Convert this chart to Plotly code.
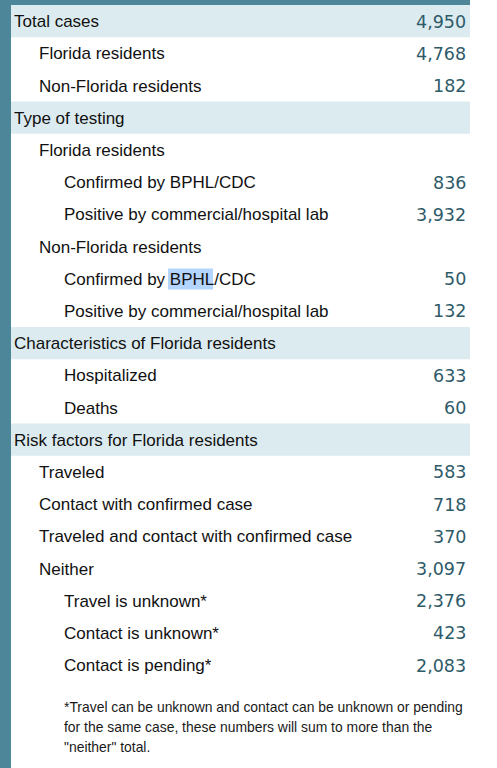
import plotly.graph_objects as go

labels = [
    "Total cases", "Florida residents", "Non-Florida residents",
    "Type of testing", "Florida residents", "Confirmed by BPHL/CDC",
    "Positive by commercial/hospital lab", "Non-Florida residents",
    "Confirmed by BPHL/CDC", "Positive by commercial/hospital lab",
    "Characteristics of Florida residents", "Hospitalized", "Deaths",
    "Risk factors for Florida residents", "Traveled", "Contact with confirmed case",
    "Traveled and contact with confirmed case", "Neither",
    "Travel is unknown*", "Contact is unknown*", "Contact is pending*",
]
levels = [0, 1, 1, 0, 1, 2, 2, 1, 2, 2, 0, 2, 2, 0, 1, 1, 1, 1, 2, 2, 2]
values = ["4,950", "4,768", "182", "", "", "836", "3,932", "", "50", "132",
          "", "633", "60", "", "583", "718", "370", "3,097", "2,376", "423", "2,083"]
headers = [True, False, False, True, False, False, False, False, False, False,
           True, False, False, True, False, False, False, False, False, False, False]
footnote = ["*Travel can be unknown and contact can be unknown or pending",
            "for the same case, these numbers will sum to more than the",
            "\"neither\" total."]

W, H = 497, 768
TEAL = "#4d8699"
HDR = "#dcebf0"
VALC = "#2f5b69"
FONT = "Liberation Sans"
VFONT = "DejaVu Sans"

row_top = 5.0
row_h = 32.2
left = 11
right = 470
indent = {0: 12, 1: 37, 2: 62}

fig = go.Figure()
shapes = []
annotations = []

# frame
shapes.append(dict(type="rect", x0=0, x1=left, y0=0, y1=H, fillcolor=TEAL, line_width=0, layer="below"))
shapes.append(dict(type="rect", x0=0, x1=right, y0=0, y1=row_top, fillcolor=TEAL, line_width=0, layer="below"))

for i, (lab, lev, val, hd) in enumerate(zip(labels, levels, values, headers)):
    y0 = row_top + i * row_h
    yc = y0 + row_h / 2 + 0.5
    if hd:
        shapes.append(dict(type="rect", x0=left, x1=right, y0=y0, y1=y0 + row_h,
                           fillcolor=HDR, line_width=0, layer="below"))
    annotations.append(dict(x=indent[lev], y=yc, text=lab, xanchor="left", yanchor="middle",
                            showarrow=False, font=dict(family=FONT, size=17, color="#111111")))
    if val:
        annotations.append(dict(x=468, y=yc, text=val, xanchor="right", yanchor="middle",
                                showarrow=False, font=dict(family=VFONT, size=17.5, color=VALC)))

# selection highlight over "BPHL" in second "Confirmed by BPHL/CDC"
sel_row = 8
sy = row_top + sel_row * row_h
shapes.append(dict(type="rect", x0=168, x1=213, y0=sy + 6, y1=sy + 27,
                   fillcolor="#b4d5fe", line_width=0, layer="below"))

for j, line in enumerate(footnote):
    annotations.append(dict(x=62, y=707 + j * 19.8, text=line, xanchor="left", yanchor="middle",
                            showarrow=False, font=dict(family=FONT, size=13.9, color="#1a1a1a")))

fig.update_layout(
    width=W, height=H, margin=dict(l=0, r=0, t=0, b=0),
    paper_bgcolor="white", plot_bgcolor="white",
    xaxis=dict(range=[0, W], visible=False, fixedrange=True),
    yaxis=dict(range=[H, 0], visible=False, fixedrange=True),
    shapes=shapes, annotations=annotations, showlegend=False,
)
fig.write_html("out.html", config={"displayModeBar": False, "staticPlot": True},
               post_script="document.body.style.margin='0';document.body.style.overflow='hidden';")
